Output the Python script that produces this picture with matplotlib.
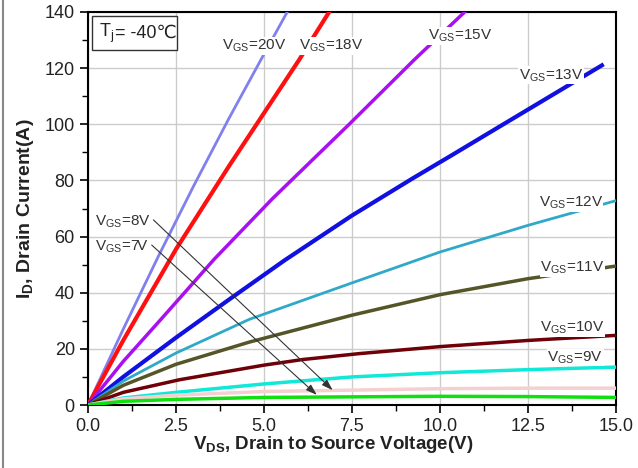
import matplotlib
matplotlib.use("Agg")
import matplotlib.pyplot as plt
from matplotlib.ticker import MultipleLocator
from matplotlib.lines import Line2D

plt.rcParams['font.family'] = ['Liberation Sans', 'DejaVu Sans']
plt.rcParams['mathtext.fontset'] = 'custom'
plt.rcParams['mathtext.rm'] = 'Liberation Sans'
plt.rcParams['mathtext.it'] = 'Liberation Sans'
plt.rcParams['mathtext.bf'] = 'Liberation Sans:bold'

# output curves I_D vs V_DS at Tj = -40 C
vds_20 = [0, 1, 2, 3, 4, 5, 5.66]
id_20 = [0, 27, 53, 78, 102, 125, 140]
vds_18 = [0, 1, 2.5, 4, 5, 6, 6.85]
id_18 = [0, 23, 55.5, 85, 104, 123, 140]
vds_15 = [0, 1, 2, 3.59, 5.24, 7.42, 9.27, 10.7]
id_15 = [0, 15.5, 29.5, 52, 73.5, 100, 123, 140]
vds_13 = [0, 1, 2.5, 4, 5.58, 7.5, 9.22, 10.27, 12, 14.6]
id_13 = [0, 10, 24, 37.5, 51.5, 67.5, 80.7, 88.5, 101.5, 121]
vds_12 = [0, 1, 2.5, 4.58, 7.5, 10, 12.5, 15]
id_12 = [0, 8.5, 18.5, 30.5, 43.5, 54.5, 64, 72.8]
vds_11 = [0, 1, 2.5, 4.58, 7.5, 10, 12.5, 15]
id_11 = [0, 7, 14.5, 22.4, 32, 39.3, 45, 49.5]
vds_10 = [0, 1, 2.6, 5, 6.1, 7.7, 10, 12.5, 15]
id_10 = [0, 4.5, 9, 14.2, 16.2, 18.3, 20.8, 23, 24.8]
vds_9 = [0, 1, 2.5, 5, 7.5, 10, 12.5, 15]
id_9 = [0, 2.5, 4.5, 7.5, 10, 11.5, 12.6, 13.5]
vds_8 = [0, 1, 2.5, 5, 7.5, 10, 12.5, 15]
id_8 = [0, 2.2, 3.5, 4.8, 5.3, 5.8, 6, 6]
vds_7 = [0, 1, 2.5, 5, 7.5, 10, 12.5, 15]
id_7 = [0, 1.3, 2, 2.7, 2.9, 3.1, 3.0, 2.7]

curves = [
    (vds_20, id_20, '#8080ee', 2.0),
    (vds_18, id_18, '#ff1010', 3.0),
    (vds_15, id_15, '#a810f0', 2.5),
    (vds_13, id_13, '#1010e0', 3.0),
    (vds_12, id_12, '#30a8c8', 2.0),
    (vds_11, id_11, '#555528', 2.5),
    (vds_10, id_10, '#700008', 2.5),
    (vds_9, id_9, '#10e8d8', 2.5),
    (vds_8, id_8, '#f5d0d0', 2.5),
    (vds_7, id_7, '#10e010', 2.5),
]

labels = ['20V', '18V', '15V', '13V', '12V', '11V', '10V', '9V']
label_x = [3.8, 6.0, 9.65, 12.25, 12.8, 12.85, 12.85, 13.05]
label_y = [125, 125, 128.5, 114.5, 69, 46, 24.5, 14]

fig = plt.figure(figsize=(6.38, 4.68), dpi=100)
ax = fig.add_axes([88 / 638, 63 / 468, 528 / 638, 393 / 468])

for x, y, c, lw in curves:
    ax.plot(x, y, color=c, linewidth=lw, zorder=3, solid_joinstyle='round')

for lab, lx, ly in zip(labels, label_x, label_y):
    t = ax.text(lx, ly, r'V$_{\mathrm{GS}}$=' + lab, fontsize=11, color='#333333',
                ha='left', va='bottom', zorder=5)
    t.set_bbox(dict(facecolor='white', edgecolor='none', pad=0.5))

# arrows for 8V and 7V
arrow = dict(arrowstyle='-|>,head_length=0.6,head_width=0.2', color='#333333',
             lw=0.8, shrinkA=0, shrinkB=0, relpos=(1.0, 0.75))
ax.annotate(r'V$_{\mathrm{GS}}$=8V', xy=(6.95, 5.3), xytext=(0.2, 62.5),
            fontsize=11, color='#333333', ha='left', va='bottom',
            arrowprops=arrow, zorder=5)
ax.annotate(r'V$_{\mathrm{GS}}$=7V', xy=(6.5, 3.6), xytext=(0.2, 53.5),
            fontsize=11, color='#333333', ha='left', va='bottom',
            arrowprops=arrow, zorder=5)

# temperature box
ax.text(0.32, 132.5, r'T$_{\mathrm{j}}$', fontsize=13, color='#222222',
        ha='left', va='center', zorder=7)
ax.text(0.78, 132.5, '= -40℃', fontsize=13, color='#222222',
        family=['Liberation Sans', 'DejaVu Sans'], ha='left', va='center',
        zorder=7)
ax.add_patch(plt.Rectangle((0.12, 126.5), 2.4, 12, fill=True, facecolor='white',
                           edgecolor='#333333', linewidth=1.0, zorder=6))

ax.set_xlim(0, 15)
ax.set_ylim(0, 140)
ax.xaxis.set_minor_locator(MultipleLocator(1.25))
ax.yaxis.set_major_locator(MultipleLocator(20))
ax.yaxis.set_minor_locator(MultipleLocator(10))
ax.set_xticks([0, 2.5, 5, 7.5, 10, 12.5, 15])
ax.set_xticklabels(['0.0', '2.5', '5.0', '7.5', '10.0', '12.5', '15.0'])
ax.tick_params(axis='both', which='major', direction='out', length=6, width=1.2,
               labelsize=13, colors='black', labelcolor='#222222')
ax.tick_params(axis='both', which='minor', direction='out', length=4, width=1.0)
ax.grid(True, which='major', color='#cccccc', linewidth=1.0, zorder=0)
ax.set_axisbelow(True)
for s in ax.spines.values():
    s.set_linewidth(1.5)

ax.set_xlabel(r'V$_{\mathbf{DS}}$, Drain to Source Voltage(V)', fontsize=13.5,
              fontweight='bold', color='#222222', labelpad=3)
ax.xaxis.set_label_coords(0.465, -0.075)
ax.set_ylabel(r'I$_{\mathbf{D}}$, Drain Current(A)', fontsize=14,
              fontweight='bold', color='#222222', labelpad=6)

fig.add_artist(Line2D([3 / 638, 3 / 638], [0, 1], color='#888888', linewidth=1.5))

fig.savefig('out.png', dpi=100)
